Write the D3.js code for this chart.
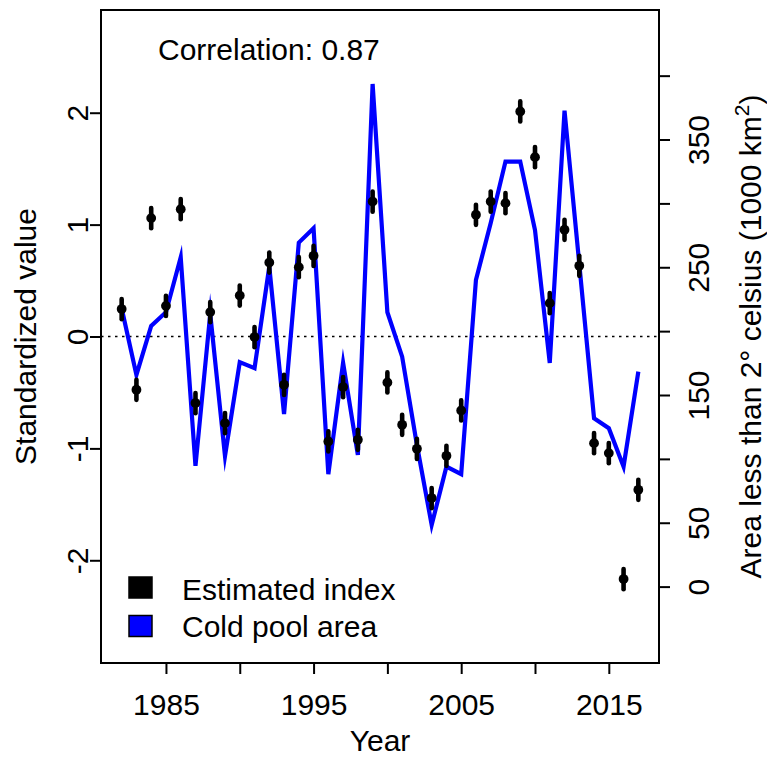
<!DOCTYPE html>
<html>
<head>
<meta charset="utf-8">
<script src="https://cdnjs.cloudflare.com/ajax/libs/d3/7.8.5/d3.min.js"></script>
<style>
  html, body { margin: 0; padding: 0; background: #fff; }
  svg { display: block; }
  text { font-family: "Liberation Sans", Arial, sans-serif; fill: #000; }
</style>
</head>
<body>
<svg id="chart" width="767" height="757"></svg>
<script>
// ---------------- data ----------------
const years = [1982, 1983, 1984, 1985, 1986, 1987, 1988, 1989, 1990, 1991, 1992, 1993,
               1994, 1995, 1996, 1997, 1998, 1999, 2000, 2001, 2002, 2003, 2004, 2005,
               2006, 2007, 2008, 2009, 2010, 2011, 2012, 2013, 2014, 2015, 2016, 2017];

// standardized estimated index (left axis)
const estimatedIndex = [0.245, -0.476, 1.058, 0.274, 1.138, -0.595, 0.218, -0.774, 0.366, -0.005, 0.661, -0.432,
                        0.620, 0.721, -0.938, -0.452, -0.923, 1.206, -0.411, -0.789, -1.004, -1.444, -1.066, -0.661,
                        1.088, 1.206, 1.192, 2.011, 1.603, 0.298, 0.954, 0.632, -0.953, -1.042, -2.168, -1.370];

// cold pool area, 1000 km^2 (right axis)
const coldPoolArea = [217.9, 165.7, 204.1, 214.8, 257.8, 94.5, 213.5, 102.3, 175.7, 171.0, 250.5, 135.0,
                      269.3, 280.5, 88.0, 175.3, 103.1, 393.5, 214.8, 180.0, 110.9, 48.3, 93.9, 88.0,
                      240.1, 284.7, 332.7, 332.7, 279.2, 175.1, 372.6, 252.6, 131.8, 124.0, 93.9, 168.3];

const xTicks = [1985, 1990, 1995, 2000, 2005, 2010, 2015];
const xTickLabels = [1985, 1995, 2005, 2015];
const leftTicks = [-2, -1, 0, 1, 2];
const rightTicks = [0, 50, 100, 150, 200, 250, 300, 350, 400];
const rightTickLabels = [0, 50, 150, 250, 350];
const legendLabels = ["Estimated index", "Cold pool area"];
const legendColors = ["#000000", "#0000ff"];
const correlationText = "Correlation: 0.87";
const indexHalfInterval = 0.09;

// ---------------- layout ----------------
const L = 101, R = 659, T = 10, B = 663;
const FS = 30;

const svg = d3.select("#chart");

const x = d3.scaleLinear().domain([1980.6, 2018.4]).range([L, R]);
const yL = d3.scaleLinear().domain([-2.918, 2.918]).range([B, T]);
const yR = d3.scaleLinear().domain([-59.8, 451.4]).range([B, T]);

// zero reference line
svg.append("line")
  .attr("x1", L).attr("x2", R)
  .attr("y1", yL(0)).attr("y2", yL(0))
  .attr("stroke", "#000").attr("stroke-width", 1.6)
  .attr("stroke-dasharray", "2.5,4.5");

// cold pool line
const line = d3.line()
  .x((d, i) => x(years[i]))
  .y(d => yR(d));
svg.append("path")
  .datum(coldPoolArea)
  .attr("d", line)
  .attr("fill", "none")
  .attr("stroke", "#0000ff")
  .attr("stroke-width", 4.2)
  .attr("stroke-linejoin", "miter")
  .attr("stroke-miterlimit", 10);

// estimated index points with intervals
const pts = svg.append("g");
estimatedIndex.forEach((v, i) => {
  pts.append("line")
    .attr("x1", x(years[i])).attr("x2", x(years[i]))
    .attr("y1", yL(v + indexHalfInterval)).attr("y2", yL(v - indexHalfInterval))
    .attr("stroke", "#000").attr("stroke-width", 4.6).attr("stroke-linecap", "round");
  pts.append("circle")
    .attr("cx", x(years[i])).attr("cy", yL(v))
    .attr("r", 4.9).attr("fill", "#000");
});

// box
svg.append("rect")
  .attr("x", L).attr("y", T).attr("width", R - L).attr("height", B - T)
  .attr("fill", "none").attr("stroke", "#000").attr("stroke-width", 2);

// bottom axis
const gx = svg.append("g").attr("transform", `translate(0,${B})`)
  .call(d3.axisBottom(x).tickValues(xTicks).tickSize(11).tickSizeOuter(0)
    .tickFormat(d => xTickLabels.includes(d) ? String(d) : ""));
gx.select(".domain").remove();
gx.selectAll(".tick line").attr("stroke-width", 2);
gx.selectAll(".tick text")
  .attr("y", 52).attr("dy", 0)
  .attr("font-size", FS).attr("font-family", "Liberation Sans, Arial, sans-serif");

// left axis
const gl = svg.append("g").attr("transform", `translate(${L},0)`)
  .call(d3.axisLeft(yL).tickValues(leftTicks).tickSize(11).tickSizeOuter(0)
    .tickFormat(d => String(d)));
gl.select(".domain").remove();
gl.selectAll(".tick line").attr("stroke-width", 2);
gl.selectAll(".tick text")
  .attr("x", 0).attr("y", 0).attr("dy", 0)
  .attr("text-anchor", "middle")
  .attr("transform", "translate(-13,0) rotate(-90)")
  .attr("font-size", FS).attr("font-family", "Liberation Sans, Arial, sans-serif");

// right axis
const gr = svg.append("g").attr("transform", `translate(${R},0)`)
  .call(d3.axisRight(yR).tickValues(rightTicks).tickSize(11).tickSizeOuter(0)
    .tickFormat(d => rightTickLabels.includes(d) ? String(d) : ""));
gr.select(".domain").remove();
gr.selectAll(".tick line").attr("stroke-width", 2);
gr.selectAll(".tick text")
  .attr("x", 0).attr("y", 0).attr("dy", 0)
  .attr("text-anchor", "middle")
  .attr("transform", "translate(50,0) rotate(-90)")
  .attr("font-size", FS).attr("font-family", "Liberation Sans, Arial, sans-serif");

// axis titles
svg.append("text")
  .attr("x", (L + R) / 2).attr("y", 751)
  .attr("text-anchor", "middle").attr("font-size", FS)
  .text("Year");

svg.append("text")
  .attr("transform", `translate(36,${(T + B) / 2}) rotate(-90)`)
  .attr("text-anchor", "middle").attr("font-size", FS)
  .text("Standardized value");

const rt = svg.append("text")
  .attr("transform", `translate(761,${(T + B) / 2}) rotate(-90)`)
  .attr("text-anchor", "middle").attr("font-size", FS);
rt.append("tspan").text("Area less than 2\u00B0 celsius (1000 km");
rt.append("tspan").attr("dy", -12).attr("font-size", 21).text("2");
rt.append("tspan").attr("dy", 12).text(")");

// correlation annotation
svg.append("text")
  .attr("x", 158).attr("y", 60)
  .attr("font-size", FS)
  .text(correlationText);

// legend
const lg = svg.append("g");
legendLabels.forEach((lab, i) => {
  lg.append("rect")
    .attr("x", 129).attr("y", 577 + i * 38.5)
    .attr("width", 23).attr("height", 21)
    .attr("fill", legendColors[i]).attr("stroke", "#000").attr("stroke-width", 1.5);
  lg.append("text")
    .attr("x", 182).attr("y", 600 + i * 37)
    .attr("font-size", FS)
    .text(lab);
});
</script>
</body>
</html>
